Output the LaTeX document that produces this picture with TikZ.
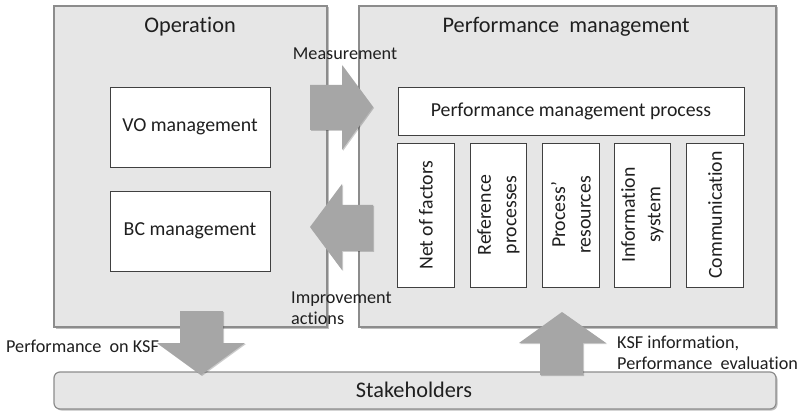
\documentclass[tikz,border=0pt]{standalone}
\usepackage{fontspec}
\setmainfont{Carlito}[Ligatures={NoCommon}]
\usetikzlibrary{shadows}
\definecolor{panel}{HTML}{E6E6E6}
\definecolor{panelline}{HTML}{8C8C8C}
\definecolor{arrowfill}{HTML}{A6A6A6}
\definecolor{txt}{HTML}{1F1F1F}
\definecolor{boxline}{HTML}{404040}
\begin{document}
\begin{tikzpicture}[x=1pt,y=-1pt,
  panelbox/.style={draw=panelline, line width=1.2pt, fill=panel, inner sep=0pt,
    drop shadow={shadow xshift=1.5pt, shadow yshift=-1.5pt, fill=black, opacity=0.25}},
  whitebox/.style={draw=boxline, line width=0.8pt, fill=white, inner sep=2pt, text=txt,
    font=\fontsize{19.8}{25.5}\selectfont, align=center},
  vbox/.style={whitebox, rotate=90, minimum width=144pt, minimum height=56.5pt},
  titletext/.style={text=txt, inner sep=0pt, font=\fontsize{22.3}{26}\selectfont},
  lbl/.style={text=txt, inner sep=0pt, font=\fontsize{18.2}{21}\selectfont, align=left},
  blockarrow/.style={fill=arrowfill, draw=none,
    drop shadow={shadow xshift=1pt, shadow yshift=-1pt, fill=black, opacity=0.2}}
]
\useasboundingbox (0,0) rectangle (799,411);
\fill[white] (0,0) rectangle (799,411);

% panels
\node[panelbox, minimum width=273pt, minimum height=321pt] (op) at (190.5,166.5) {};
\node[panelbox, minimum width=417pt, minimum height=321pt] (pm) at (567.5,166.5) {};
\node[panelbox, rounded corners=6pt, minimum width=722pt, minimum height=37pt] (sh) at (415,390.5) {};

% titles
\node[titletext, anchor=base] (optitle) at (190,33) {Operation};
\node[titletext, anchor=base] (pmtitle) at (566,33) {Performance\ \ management};
\node[titletext, anchor=base] (shtitle) at (414,397) {Stakeholders};

% operation boxes
\node[whitebox, minimum width=160pt, minimum height=80pt] (vo) at (190,127) {VO management};
\node[whitebox, minimum width=160pt, minimum height=80pt] (bc) at (190,231) {BC management};

% performance management boxes
\node[whitebox, minimum width=346pt, minimum height=48pt] (pmp) at (571,111) {Performance management process};
\node[vbox] (f1) at (426,215) {Net of factors};
\node[vbox] (f2) at (498.5,215) {Reference\\processes};
\node[vbox] (f3) at (571,215) {Process'\\resources};
\node[vbox] (f4) at (642.5,215) {Information\\system};
\node[vbox] (f5) at (715,215) {Communication};

% block arrows
\fill[blockarrow] (310,85) -- (342,85) -- (342,65) -- (373,107) -- (342,150) -- (342,130) -- (310,130) -- cycle;
\fill[blockarrow] (373,205) -- (342,205) -- (342,184) -- (310,227) -- (342,270) -- (342,251) -- (373,251) -- cycle;
\fill[blockarrow] (180,311) -- (223,311) -- (223,343) -- (245,343) -- (201,375) -- (157,343) -- (180,343) -- cycle;
\fill[blockarrow] (540,375) -- (583,375) -- (583,343) -- (606,343) -- (562,312) -- (519,343) -- (540,343) -- cycle;

% labels
\node[lbl, anchor=base] (meas) at (345,60) {Measurement};
\node[lbl, anchor=west] (impr) at (291,308) {Improvement\\actions};
\node[lbl, anchor=base west] (pksf) at (6,352) {Performance\ \ on KSF};
\node[lbl, anchor=west] (ksfi) at (617,353) {KSF information,\\Performance\ \ evaluation};
\end{tikzpicture}
\end{document}
